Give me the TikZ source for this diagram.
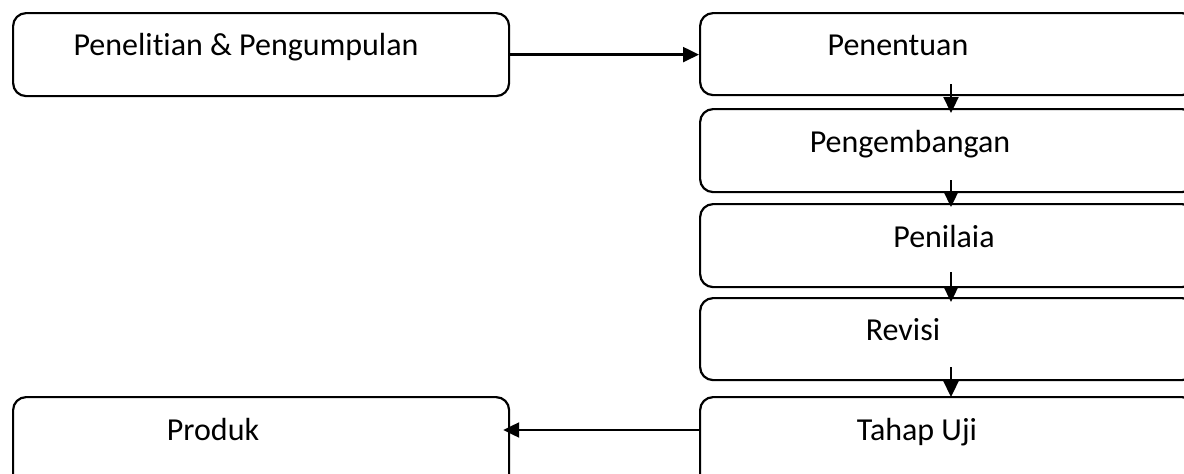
\documentclass[tikz,border=0pt]{standalone}
\usepackage{fontspec}
\setmainfont[RawFeature={-liga;-clig;-calt;-dlig}]{Carlito}
\usetikzlibrary{arrows.meta}
\tikzset{
  box/.style={draw=black, line width=2.2pt, rounded corners=13pt, rectangle, anchor=north west, inner sep=0pt},
  lbl/.style={anchor=base, inner sep=0pt, font=\fontsize{32pt}{38pt}\selectfont},
  arr/.style={line width=2.3pt, -{Triangle[length=16pt,width=15pt]}}
}
\begin{document}
\begin{tikzpicture}[x=1pt,y=-1pt]
\useasboundingbox (0,0) rectangle (1184,474);
\clip (0,0) rectangle (1184,474);
\fill[white] (0,0) rectangle (1184,474);
% boxes
\node[box, minimum width=496pt, minimum height=83pt] (A) at (12,12) {};
\node[box, minimum width=495pt, minimum height=82pt] (B) at (699,12) {};
\node[box, minimum width=495pt, minimum height=83pt] (C) at (699,108) {};
\node[box, minimum width=495pt, minimum height=83pt] (D) at (699,203) {};
\node[box, minimum width=495pt, minimum height=82pt] (E) at (699,297) {};
\node[box, minimum width=495pt, minimum height=92pt] (F) at (699,396) {};
\node[box, minimum width=496pt, minimum height=92pt] (G) at (12,396) {};
% labels
\node[lbl] (tA) at (246,55) {Penelit\kern0pt ian \& Pengumpulan};
\node[lbl] (tB) at (898,55) {Penentuan};
\node[lbl] (tC) at (910,152) {Pengembangan};
\node[lbl] (tD) at (944,247) {Penilaia};
\node[lbl] (tE) at (903,340) {Revisi};
\node[lbl] (tF) at (917,440) {Tahap Uji};
\node[lbl] (tG) at (213,440) {Produk};
% helper coordinates
\coordinate (vx) at (951,0);
\coordinate (hy) at (0,430);
% connectors
\draw[arr] (A.east) -- (A.east -| B.west);
\draw[arr] ([yshift=12pt]B.south -| vx) -- ([yshift=-5pt]C.north -| vx);
\draw[arr] ([yshift=13pt]C.south -| vx) -- ([yshift=-4pt]D.north -| vx);
\draw[arr] ([yshift=16pt]D.south -| vx) -- ([yshift=-5pt]E.north -| vx);
\draw[arr] ([yshift=14pt]E.south -| vx) -- ([yshift=-1pt]F.north -| vx);
\draw[arr, shorten >=-7pt] (F.west |- hy) -- (G.east |- hy);
\end{tikzpicture}
\end{document}
